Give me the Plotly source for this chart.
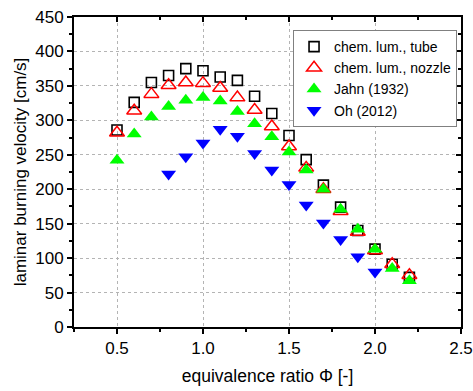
import plotly.graph_objects as go

# Equivalence ratio for each data set
phi_tube = [0.5, 0.6, 0.7, 0.8, 0.9, 1.0, 1.1, 1.2, 1.3, 1.4, 1.5, 1.6, 1.7, 1.8, 1.9, 2.0, 2.1, 2.2]
phi_nozzle = [0.5, 0.6, 0.7, 0.8, 0.9, 1.0, 1.1, 1.2, 1.3, 1.4, 1.5, 1.6, 1.7, 1.8, 1.9, 2.0, 2.1, 2.2]
phi_jahn = [0.5, 0.6, 0.7, 0.8, 0.9, 1.0, 1.1, 1.2, 1.3, 1.4, 1.5, 1.6, 1.7, 1.8, 1.9, 2.0, 2.1, 2.2]
phi_oh = [0.8, 0.9, 1.0, 1.1, 1.2, 1.3, 1.4, 1.5, 1.6, 1.7, 1.8, 1.9, 2.0]

# Laminar burning velocity [cm/s]
sl_tube = [286, 326, 355, 365, 375, 372, 363, 358, 335, 310, 278, 243, 206, 174, 140, 113, 91, 72]
sl_nozzle = [282, 314, 338, 351, 355, 354, 347, 333, 315, 291, 262, 231, 200, 168, 138, 111, 91, 75]
sl_jahn = [242, 280, 305, 320, 329, 333, 328, 313, 295, 276, 254, 228, 200, 171, 142, 113, 85, 67]
sl_oh = [222, 247, 267, 287, 277, 252, 228, 207, 177, 151, 127, 102, 80]

# Axis ticks
x_major = [0.5, 1.0, 1.5, 2.0, 2.5]
x_labels = ["0.5", "1.0", "1.5", "2.0", "2.5"]
x_minor = [0.25, 0.75, 1.25, 1.75, 2.25]

FONT = "Liberation Sans, Arial, sans-serif"

fig = go.Figure()
fig.add_trace(go.Scatter(
    x=phi_tube, y=sl_tube, mode="markers", name="chem. lum., tube",
    marker=dict(symbol="square-open", size=10, color="black", line=dict(width=1.6)),
))
fig.add_trace(go.Scatter(
    x=phi_nozzle, y=sl_nozzle, mode="markers", name="chem. lum., nozzle",
    marker=dict(symbol="triangle-up-open", size=13, color="#ff0000", line=dict(width=1.5)),
))
fig.add_trace(go.Scatter(
    x=phi_jahn, y=sl_jahn, mode="markers", name="Jahn (1932)",
    marker=dict(symbol="triangle-up", size=13, color="#00ff00", line=dict(width=0)),
))
fig.add_trace(go.Scatter(
    x=phi_oh, y=sl_oh, mode="markers", name="Oh (2012)",
    marker=dict(symbol="triangle-down", size=13, color="#0000ff", line=dict(width=0)),
))
# empty trace so the mirrored top/right axes get drawn
fig.add_trace(go.Scatter(x=[], y=[], xaxis="x2", yaxis="y2", showlegend=False, hoverinfo="skip"))

xr = [0.25, 2.5]
yr = [0, 450]
grid = dict(showgrid=True, gridcolor="#b4b4b4", griddash="dot", gridwidth=1)

fig.update_layout(
    width=473, height=391,
    margin=dict(l=74, r=12, t=17, b=64),
    paper_bgcolor="white", plot_bgcolor="white",
    font=dict(family=FONT, size=15, color="black"),
    showlegend=True,
    xaxis=dict(
        range=xr, tickvals=x_major, ticktext=x_labels, automargin=False,
        ticks="outside", ticklen=5, tickwidth=1.5, tickcolor="black",
        minor=dict(tickvals=x_minor, ticks="outside", ticklen=3, tickwidth=1.5, tickcolor="black", showgrid=False),
        showline=True, linecolor="black", linewidth=2, zeroline=False,
        title=dict(text="equivalence ratio \u03a6 [-]", font=dict(size=17.5), standoff=12),
        tickfont=dict(size=17),
        **grid,
    ),
    yaxis=dict(
        range=yr, dtick=50, automargin=False,
        ticks="outside", ticklen=5, tickwidth=1.5, tickcolor="black",
        minor=dict(dtick=25, ticks="outside", ticklen=3, tickwidth=1.5, tickcolor="black", showgrid=False),
        showline=True, linecolor="black", linewidth=2, zeroline=False,
        title=dict(text="laminar burning velocity [cm/s]", font=dict(size=17), standoff=4),
        tickfont=dict(size=17),
        **grid,
    ),
    xaxis2=dict(
        range=xr, overlaying="x", side="top", anchor="y", automargin=False,
        tickvals=x_major, ticks="inside", ticklen=5, tickwidth=1.5, tickcolor="black",
        minor=dict(tickvals=x_minor, ticks="inside", ticklen=3, tickwidth=1.5, tickcolor="black"),
        showticklabels=False, showline=True, linecolor="black", linewidth=2,
        showgrid=False, zeroline=False,
    ),
    yaxis2=dict(
        range=yr, overlaying="y", side="right", anchor="x", automargin=False,
        dtick=50, ticks="inside", ticklen=5, tickwidth=1.5, tickcolor="black",
        minor=dict(dtick=25, ticks="inside", ticklen=3, tickwidth=1.5, tickcolor="black"),
        showticklabels=False, showline=True, linecolor="black", linewidth=2,
        showgrid=False, zeroline=False,
    ),
    legend=dict(
        x=0.566, y=0.958, xanchor="left", yanchor="top",
        bgcolor="white", bordercolor="#808080", borderwidth=1,
        font=dict(size=14), tracegroupgap=0, itemwidth=30,
    ),
)

fig.write_html("out.html")
